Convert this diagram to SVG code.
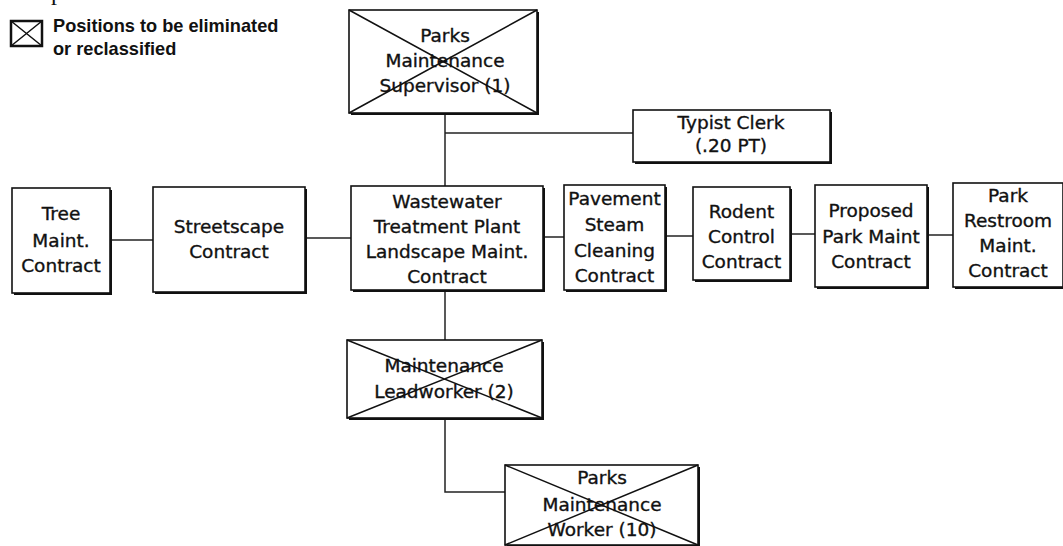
<svg xmlns="http://www.w3.org/2000/svg" width="1063" height="546" viewBox="0 0 1063 546">
  <style>
    .box { fill: #fff; stroke: #111; stroke-width: 1.6; }
    .shadow { fill: #111; }
    .x { stroke: #111; stroke-width: 1.5; fill: none; }
    .wire { stroke: #222; stroke-width: 1.5; fill: none; }
    .lbl { font-family: "DejaVu Sans", sans-serif; font-size: 18.5px; fill: #111; stroke: #111; stroke-width: 0.35; text-anchor: middle; }
    .legend { font-family: "Liberation Sans", Arial, sans-serif; font-weight: bold; font-size: 18.2px; fill: #111; }
  </style>

  <rect width="1063" height="546" fill="#fff"/>

  <!-- clipped heading glyph at the top edge -->
  <text x="51" y="0" font-family="Liberation Serif, serif" font-size="24" fill="#111">p</text>

  <!-- legend -->
  <g id="legend">
    <rect x="11" y="21" width="31" height="25" fill="#fff" stroke="#111" stroke-width="2.5"/>
    <path class="x" d="M11 21 L42 46 M42 21 L11 46" stroke-width="2.5"/>
    <text class="legend" x="53" y="32">Positions to be eliminated</text>
    <text class="legend" x="53" y="55">or reclassified</text>
  </g>

  <!-- connectors -->
  <g id="connectors">
    <path class="wire" d="M445 113 V186"/>
    <path class="wire" d="M445 133 H633"/>
    <path class="wire" d="M110 240 H153"/>
    <path class="wire" d="M305 238 H351"/>
    <path class="wire" d="M543 237 H564"/>
    <path class="wire" d="M665 236 H693"/>
    <path class="wire" d="M790 234 H815"/>
    <path class="wire" d="M927 235 H953"/>
    <path class="wire" d="M445 290 V340"/>
    <path class="wire" d="M445 418 V492 H505"/>
  </g>

  <!-- eliminated: supervisor -->
  <g id="supervisor">
    <rect class="shadow" x="351" y="12" width="188" height="103"/>
    <rect class="box" x="349" y="10" width="188" height="103"/>
    <text class="lbl"><tspan x="445" y="42">Parks</tspan><tspan x="445" y="67">Maintenance</tspan><tspan x="445" y="92">Supervisor (1)</tspan></text>
    <path class="x" d="M349 10 L537 113 M537 10 L349 113"/>
  </g>

  <g id="typist">
    <rect class="shadow" x="635" y="112" width="197" height="52"/>
    <rect class="box" x="633" y="110" width="197" height="52"/>
    <text class="lbl"><tspan x="731" y="129">Typist Clerk</tspan><tspan x="731" y="152">(.20 PT)</tspan></text>
  </g>

  <g id="tree">
    <rect class="shadow" x="14" y="190" width="98" height="105"/>
    <rect class="box" x="12" y="188" width="98" height="105"/>
    <text class="lbl"><tspan x="61" y="220">Tree</tspan><tspan x="61" y="247">Maint.</tspan><tspan x="61" y="272">Contract</tspan></text>
  </g>

  <g id="streetscape">
    <rect class="shadow" x="155" y="189" width="152" height="105"/>
    <rect class="box" x="153" y="187" width="152" height="105"/>
    <text class="lbl"><tspan x="229" y="233">Streetscape</tspan><tspan x="229" y="258">Contract</tspan></text>
  </g>

  <g id="wastewater">
    <rect class="shadow" x="353" y="188" width="192" height="104"/>
    <rect class="box" x="351" y="186" width="192" height="104"/>
    <text class="lbl"><tspan x="447" y="208">Wastewater</tspan><tspan x="447" y="233">Treatment Plant</tspan><tspan x="447" y="258">Landscape Maint.</tspan><tspan x="447" y="283">Contract</tspan></text>
  </g>

  <g id="pavement">
    <rect class="shadow" x="566" y="187" width="101" height="105"/>
    <rect class="box" x="564" y="185" width="101" height="105"/>
    <text class="lbl"><tspan x="614.5" y="205">Pavement</tspan><tspan x="614.5" y="231">Steam</tspan><tspan x="614.5" y="257">Cleaning</tspan><tspan x="614.5" y="282">Contract</tspan></text>
  </g>

  <g id="rodent">
    <rect class="shadow" x="695" y="189" width="97" height="93"/>
    <rect class="box" x="693" y="187" width="97" height="93"/>
    <text class="lbl"><tspan x="741.5" y="218">Rodent</tspan><tspan x="741.5" y="243">Control</tspan><tspan x="741.5" y="268">Contract</tspan></text>
  </g>

  <g id="proposed">
    <rect class="shadow" x="817" y="187" width="112" height="102"/>
    <rect class="box" x="815" y="185" width="112" height="102"/>
    <text class="lbl"><tspan x="871" y="217">Proposed</tspan><tspan x="871" y="243">Park Maint</tspan><tspan x="871" y="268">Contract</tspan></text>
  </g>

  <g id="restroom">
    <rect class="shadow" x="955" y="185" width="110" height="104"/>
    <rect class="box" x="953" y="183" width="110" height="104"/>
    <text class="lbl"><tspan x="1008" y="202">Park</tspan><tspan x="1008" y="227">Restroom</tspan><tspan x="1008" y="252">Maint.</tspan><tspan x="1008" y="277">Contract</tspan></text>
  </g>

  <!-- eliminated: lead worker -->
  <g id="leadworker">
    <rect class="shadow" x="349" y="342" width="195" height="78"/>
    <rect class="box" x="347" y="340" width="195" height="78"/>
    <text class="lbl"><tspan x="444" y="372">Maintenance</tspan><tspan x="444" y="398">Leadworker (2)</tspan></text>
    <path class="x" d="M347 340 L542 418 M542 340 L347 418"/>
  </g>

  <!-- eliminated: worker -->
  <g id="worker">
    <rect class="shadow" x="507" y="467" width="193" height="80"/>
    <rect class="box" x="505" y="465" width="193" height="80"/>
    <text class="lbl"><tspan x="602" y="484">Parks</tspan><tspan x="602" y="511">Maintenance</tspan><tspan x="602" y="536">Worker (10)</tspan></text>
    <path class="x" d="M505 465 L698 545 M698 465 L505 545"/>
  </g>
</svg>
